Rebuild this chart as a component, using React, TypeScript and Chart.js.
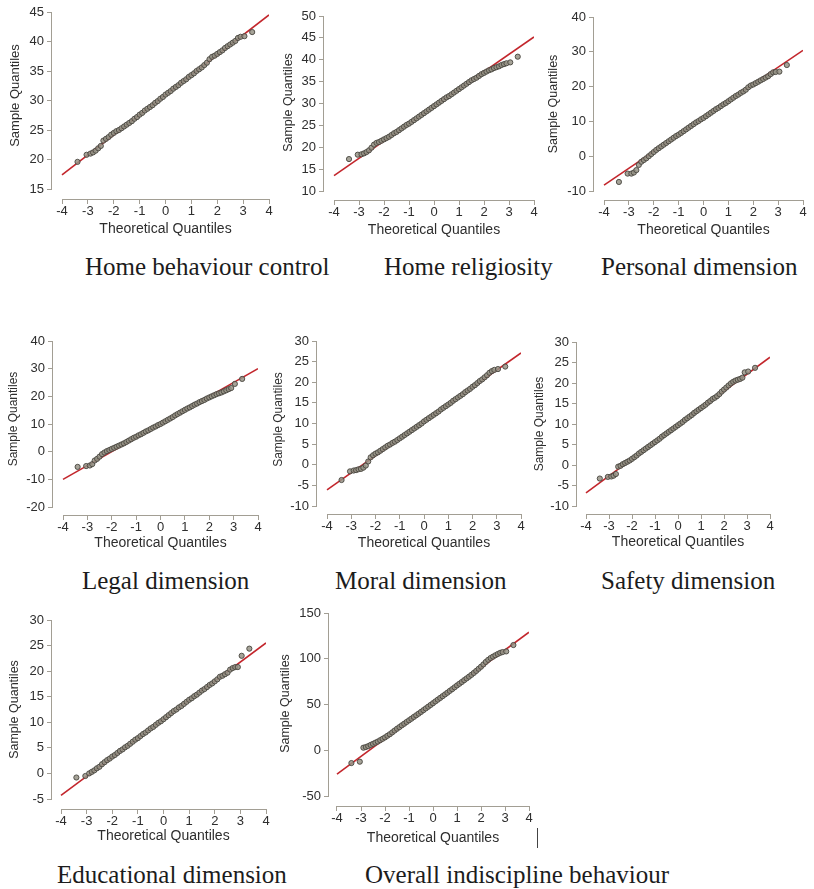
import React, { useEffect, useRef } from "react";
import { Chart, registerables } from "chart.js";

Chart.register(...registerables);

// ---------- data ----------
const theoreticalQuantiles = [
  -3.4, -3.05, -2.9, -2.8, -2.7, -2.6, -2.5, -2.4, -2.3, -2.2, -2.1,
  -2.0, -1.9, -1.8, -1.7, -1.6, -1.5, -1.4, -1.3, -1.2, -1.1,
  -1.0, -0.9, -0.8, -0.7, -0.6, -0.5, -0.4, -0.3, -0.2, -0.1,
  0, 0.1, 0.2, 0.3, 0.4, 0.5, 0.6, 0.7, 0.8, 0.9,
  1.0, 1.1, 1.2, 1.3, 1.4, 1.5, 1.6, 1.7, 1.8, 1.9,
  2.0, 2.1, 2.2, 2.3, 2.4, 2.5, 2.6, 2.7, 2.8, 2.9,
  3.05, 3.35,
];

const homeBehaviourControl = [
  19.6, 20.8, 21.0, 21.2, 21.5, 21.9, 22.3, 23.2, 23.5, 23.8, 24.2,
  24.5, 24.8, 25.0, 25.3, 25.6, 25.9, 26.2, 26.5, 26.9, 27.2,
  27.6, 27.9, 28.3, 28.6, 28.9, 29.2, 29.6, 29.9, 30.3, 30.6,
  31.0, 31.3, 31.6, 32.0, 32.3, 32.6, 33.0, 33.3, 33.6, 34.0,
  34.3, 34.6, 35.0, 35.3, 35.6, 36.0, 36.4, 37.0, 37.4, 37.6,
  37.9, 38.2, 38.5, 38.9, 39.2, 39.5, 39.8, 40.1, 40.6, 40.8,
  40.9, 41.6,
];

const homeReligiosity = [
  17.3, 18.3, 18.4, 18.6, 18.9, 19.3, 19.9, 20.6, 21.0, 21.2, 21.5,
  21.8, 22.1, 22.4, 22.8, 23.2, 23.5, 23.9, 24.3, 24.7, 25.1,
  25.4, 25.8, 26.2, 26.6, 27.0, 27.4, 27.8, 28.2, 28.6, 29.0,
  29.4, 29.8, 30.2, 30.6, 31.0, 31.4, 31.7, 32.1, 32.5, 32.9,
  33.3, 33.7, 34.1, 34.5, 34.9, 35.3, 35.6, 35.9, 36.3, 36.7,
  37.0, 37.3, 37.6, 37.8, 38.1, 38.3, 38.5, 38.8, 39.0, 39.2,
  39.4, 40.7,
];

const personalDimension = [
  -7.4, -5.0, -5.0, -4.7, -4.0, -2.5, -1.6, -1.1, -0.6, 0.0, 0.6,
  1.2, 1.8, 2.3, 2.8, 3.3, 3.8, 4.3, 4.8, 5.3, 5.8,
  6.2, 6.7, 7.2, 7.7, 8.2, 8.7, 9.2, 9.7, 10.1, 10.6,
  11.0, 11.5, 12.0, 12.5, 13.0, 13.5, 13.9, 14.4, 14.9, 15.3,
  15.8, 16.3, 16.8, 17.3, 17.7, 18.2, 18.6, 19.1, 19.8, 20.3,
  20.6, 21.0, 21.4, 21.8, 22.2, 22.6, 23.0, 23.6, 24.1, 24.2,
  24.3, 26.2,
];

const legalDimension = [
  -5.5, -5.2, -5.0, -4.5, -3.2, -2.6, -1.8, -0.9, -0.3, 0.2, 0.6,
  1.0, 1.4, 1.8, 2.2, 2.6, 3.0, 3.5, 4.0, 4.5, 5.0,
  5.4, 5.9, 6.3, 6.8, 7.3, 7.7, 8.2, 8.7, 9.1, 9.6,
  10.0, 10.5, 11.0, 11.5, 12.0, 12.5, 13.1, 13.6, 14.1, 14.6,
  15.1, 15.6, 16.0, 16.5, 17.0, 17.4, 17.9, 18.3, 18.7, 19.2,
  19.6, 20.0, 20.4, 20.8, 21.1, 21.4, 21.8, 22.2, 22.6, 23.0,
  24.5, 26.3,
];

const moralDimension = [
  -3.7, -1.6, -1.4, -1.3, -1.1, -1.0, -0.7, -0.2, 0.8, 1.8, 2.3,
  2.7, 3.0, 3.4, 3.8, 4.2, 4.6, 4.9, 5.3, 5.6, 6.0,
  6.4, 6.8, 7.2, 7.6, 8.0, 8.4, 8.8, 9.2, 9.6, 10.0,
  10.5, 10.9, 11.3, 11.7, 12.1, 12.5, 12.9, 13.4, 13.8, 14.2,
  14.6, 15.0, 15.5, 15.9, 16.3, 16.7, 17.1, 17.6, 18.0, 18.4,
  18.9, 19.3, 19.8, 20.3, 20.7, 21.2, 21.7, 22.3, 22.7, 23.0,
  23.2, 23.8,
];

const safetyDimension = [
  -3.3, -2.9, -2.8, -2.6, -2.2, -0.4, -0.2, 0.2, 0.5, 0.8, 1.1,
  1.5, 1.9, 2.3, 2.8, 3.2, 3.6, 4.0, 4.4, 4.8, 5.2,
  5.6, 6.0, 6.4, 6.9, 7.3, 7.7, 8.1, 8.5, 8.9, 9.3,
  9.7, 10.1, 10.5, 11.0, 11.4, 11.8, 12.2, 12.7, 13.1, 13.5,
  13.9, 14.3, 14.7, 15.2, 15.6, 16.1, 16.4, 16.8, 17.3, 17.9,
  18.4, 18.9, 19.4, 19.9, 20.3, 20.6, 20.8, 21.0, 21.3, 22.6,
  22.8, 23.7,
];

const educationalDimension = [
  -0.8, -0.5, 0.0, 0.3, 0.6, 1.0, 1.3, 1.8, 2.2, 2.6, 2.9,
  3.3, 3.6, 4.0, 4.4, 4.7, 5.1, 5.4, 5.8, 6.2, 6.6,
  6.9, 7.3, 7.7, 8.0, 8.4, 8.8, 9.1, 9.5, 9.9, 10.2,
  10.6, 11.0, 11.4, 11.8, 12.2, 12.5, 12.9, 13.2, 13.6, 14.0,
  14.4, 14.7, 15.1, 15.4, 15.8, 16.2, 16.5, 16.9, 17.3, 17.6,
  18.0, 18.4, 18.9, 19.1, 19.4, 19.7, 20.3, 20.6, 20.8, 20.8,
  23.0, 24.4,
];

const overallIndiscipline = [
  -14.0, -12.5, 2.8, 3.5, 4.5, 5.8, 7.0, 8.3, 9.5, 11.0, 12.5,
  14.0, 15.8, 17.5, 19.5, 21.5, 23.5, 25.3, 27.2, 29.0, 30.9,
  32.7, 34.5, 36.4, 38.2, 40.0, 41.9, 43.8, 45.7, 47.6, 49.5,
  51.4, 53.4, 55.3, 57.2, 59.1, 61.0, 62.9, 64.9, 66.8, 68.8,
  70.8, 72.7, 74.6, 76.6, 78.5, 80.4, 82.4, 84.5, 86.7, 89.0,
  91.3, 93.8, 96.5, 98.8, 100.8, 102.3, 103.8, 105.2, 106.5, 107.3,
  108.0, 115.0,
];

// reference line: sample value at theoretical -4 and +4
const referenceLineX = [-4, 4];
const homeBehaviourControlLine = [17.4, 44.5];
const homeReligiosityLine = [13.5, 45.2];
const personalDimensionLine = [-8.3, 30.4];
const legalDimensionLine = [-10, 30];
const moralDimensionLine = [-6.1, 27.1];
const safetyDimensionLine = [-6.8, 26.3];
const educationalDimensionLine = [-4.3, 25.5];
const overallIndisciplineLine = [-26, 129];

// tick labels
const theoreticalTicks = [-4, -3, -2, -1, 0, 1, 2, 3, 4];
const homeBehaviourControlTicks = [15, 20, 25, 30, 35, 40, 45];
const homeReligiosityTicks = [10, 15, 20, 25, 30, 35, 40, 45, 50];
const personalDimensionTicks = [-10, 0, 10, 20, 30, 40];
const legalDimensionTicks = [-20, -10, 0, 10, 20, 30, 40];
const moralDimensionTicks = [-10, -5, 0, 5, 10, 15, 20, 25, 30];
const safetyDimensionTicks = [-10, -5, 0, 5, 10, 15, 20, 25, 30];
const educationalDimensionTicks = [-5, 0, 5, 10, 15, 20, 25, 30];
const overallIndisciplineTicks = [-50, 0, 50, 100, 150];

const panelNames = [
  "Home behaviour control",
  "Home religiosity",
  "Personal dimension",
  "Legal dimension",
  "Moral dimension",
  "Safety dimension",
  "Educational dimension",
  "Overall indiscipline behaviour",
];

const xAxisTitle = "Theoretical Quantiles";
const yAxisTitle = "Sample Quantiles";

// ---------- layout (page pixels) ----------
const panels = [
  { values: homeBehaviourControl, line: homeBehaviourControlLine, yTicks: homeBehaviourControlTicks,
    L: { yAxisX: 52, xAxisY: 199, xFirst: 62, xLast: 269, yTopPx: 12, yBotPx: 189, yTitleDist: 37, yTitleSize: 13, yTitleShift: -5, xTitleDist: 30 },
    caption: { left: 85, baseline: 275 } },
  { values: homeReligiosity, line: homeReligiosityLine, yTicks: homeReligiosityTicks,
    L: { yAxisX: 324, xAxisY: 200, xFirst: 334, xLast: 534, yTopPx: 16, yBotPx: 191, yTitleDist: 35, yTitleSize: 12.5, yTitleShift: -1, xTitleDist: 30 },
    caption: { left: 384, baseline: 275 } },
  { values: personalDimension, line: personalDimensionLine, yTicks: personalDimensionTicks,
    L: { yAxisX: 594, xAxisY: 200, xFirst: 604, xLast: 803, yTopPx: 17, yBotPx: 191, yTitleDist: 40, yTitleSize: 12.5, yTitleShift: 0, xTitleDist: 30 },
    caption: { left: 601, baseline: 275 } },
  { values: legalDimension, line: legalDimensionLine, yTicks: legalDimensionTicks,
    L: { yAxisX: 53, xAxisY: 515, xFirst: 63, xLast: 258, yTopPx: 341, yBotPx: 507, yTitleDist: 39, yTitleSize: 12, yTitleShift: -5, xTitleDist: 28 },
    caption: { left: 82, baseline: 589 } },
  { values: moralDimension, line: moralDimensionLine, yTicks: moralDimensionTicks,
    L: { yAxisX: 317, xAxisY: 514, xFirst: 327, xLast: 521, yTopPx: 341, yBotPx: 506, yTitleDist: 38, yTitleSize: 12, yTitleShift: -4, xTitleDist: 29 },
    caption: { left: 335, baseline: 589 } },
  { values: safetyDimension, line: safetyDimensionLine, yTicks: safetyDimensionTicks,
    L: { yAxisX: 577, xAxisY: 514, xFirst: 586, xLast: 770, yTopPx: 342, yBotPx: 506, yTitleDist: 37, yTitleSize: 12, yTitleShift: 0, xTitleDist: 28 },
    caption: { left: 601, baseline: 589 } },
  { values: educationalDimension, line: educationalDimensionLine, yTicks: educationalDimensionTicks,
    L: { yAxisX: 52, xAxisY: 809, xFirst: 61, xLast: 266, yTopPx: 620, yBotPx: 799, yTitleDist: 37, yTitleSize: 12.5, yTitleShift: 0, xTitleDist: 27 },
    caption: { left: 57, baseline: 883 } },
  { values: overallIndiscipline, line: overallIndisciplineLine, yTicks: overallIndisciplineTicks,
    L: { yAxisX: 329, xAxisY: 806, xFirst: 337, xLast: 529, yTopPx: 613, yBotPx: 796, yTitleDist: 43, yTitleSize: 12.5, yTitleShift: -1, xTitleDist: 32 },
    caption: { left: 365, baseline: 883 } },
];

const Y_SCALE_W = 56;
const PAD_TOP = 12;
const PAD_RIGHT = 8;
const X_SCALE_H = 44;

const SANS = '"Liberation Sans", Arial, Helvetica, sans-serif';
const AXIS_COLOR = "#a29e94";
const TEXT_COLOR = "#2e2e2e";
const LINE_COLOR = "#c3262c";

function QQPanel({ p }: { p: (typeof panels)[number] }) {
  const ref = useRef<HTMLCanvasElement | null>(null);
  const L = p.L;
  const areaW = L.xLast - L.yAxisX;
  const areaH = L.xAxisY - L.yTopPx;
  const width = Y_SCALE_W + areaW + PAD_RIGHT;
  const height = PAD_TOP + areaH + X_SCALE_H;
  const left = L.yAxisX - Y_SCALE_W;
  const top = L.yTopPx - PAD_TOP;

  useEffect(() => {
    if (!ref.current) return;
    const xT = theoreticalTicks;
    const yT = p.yTicks;
    const xSpan = xT[xT.length - 1] - xT[0];
    const ySpan = yT[yT.length - 1] - yT[0];
    const xMin = xT[0] - ((L.xFirst - L.yAxisX) * xSpan) / (L.xLast - L.xFirst);
    const yMin = yT[0] - ((L.xAxisY - L.yBotPx) * ySpan) / (L.yBotPx - L.yTopPx);

    const rAxes = {
      id: "rAxes",
      afterDraw(chart: any) {
        const { ctx, chartArea } = chart;
        const xs = chart.scales.x;
        const ys = chart.scales.y;
        ctx.save();
        ctx.strokeStyle = AXIS_COLOR;
        ctx.lineWidth = 1;
        ctx.beginPath();
        const by = Math.round(chartArea.bottom) + 0.5;
        ctx.moveTo(xs.getPixelForValue(xT[0]), by);
        ctx.lineTo(xs.getPixelForValue(xT[xT.length - 1]), by);
        const lx = Math.round(chartArea.left) - 0.5;
        ctx.moveTo(lx, ys.getPixelForValue(yT[0]));
        ctx.lineTo(lx, ys.getPixelForValue(yT[yT.length - 1]));
        ctx.stroke();

        ctx.fillStyle = TEXT_COLOR;
        ctx.textAlign = "center";
        ctx.textBaseline = "middle";
        ctx.font = `14px ${SANS}`;
        ctx.fillText(xAxisTitle, xs.getPixelForValue(0), chartArea.bottom + L.xTitleDist);

        const cy = (ys.getPixelForValue(yT[0]) + ys.getPixelForValue(yT[yT.length - 1])) / 2 + L.yTitleShift;
        ctx.translate(chartArea.left - L.yTitleDist, cy);
        ctx.rotate(-Math.PI / 2);
        ctx.font = `${L.yTitleSize}px ${SANS}`;
        ctx.fillText(yAxisTitle, 0, 0);
        ctx.restore();
      },
    };

    const tickFont = { family: SANS, size: 13 };
    const chart = new Chart(ref.current, {
      type: "scatter",
      data: {
        datasets: [
          {
            data: theoreticalQuantiles.map((x, i) => ({ x, y: p.values[i] })),
            pointRadius: 2.6,
            pointBorderWidth: 0.9,
            backgroundColor: "rgba(150,147,134,0.85)",
            borderColor: "#47453e",
            order: 0,
          },
          {
            data: referenceLineX.map((x, i) => ({ x, y: p.line[i] })),
            showLine: true,
            pointRadius: 0,
            borderColor: LINE_COLOR,
            borderWidth: 1.6,
            order: 1,
          },
        ],
      },
      options: {
        animation: false,
        responsive: false,
        devicePixelRatio: 1,
        layout: { padding: { left: 0, top: PAD_TOP, right: PAD_RIGHT, bottom: 0 } },
        plugins: { legend: { display: false }, tooltip: { enabled: false } },
        scales: {
          x: {
            type: "linear",
            min: xMin,
            max: xT[xT.length - 1],
            bounds: "data",
            afterFit: (s: any) => {
              s.height = X_SCALE_H;
            },
            afterBuildTicks: (s: any) => {
              s.ticks = xT.map((v) => ({ value: v }));
            },
            ticks: {
              autoSkip: false,
              maxRotation: 0,
              padding: 0,
              font: tickFont,
              color: TEXT_COLOR,
              callback: (_v: any, i: number) => String(xT[i]),
            },
            grid: { display: true, drawOnChartArea: false, drawTicks: true, tickLength: 5, color: AXIS_COLOR, lineWidth: 1 },
            border: { display: false },
          },
          y: {
            type: "linear",
            min: yMin,
            max: yT[yT.length - 1],
            bounds: "data",
            afterFit: (s: any) => {
              s.width = Y_SCALE_W;
            },
            afterBuildTicks: (s: any) => {
              s.ticks = yT.map((v) => ({ value: v }));
            },
            ticks: {
              autoSkip: false,
              padding: 3,
              font: tickFont,
              color: TEXT_COLOR,
              callback: (_v: any, i: number) => String(yT[i]),
            },
            grid: { display: true, drawOnChartArea: false, drawTicks: true, tickLength: 5, color: AXIS_COLOR, lineWidth: 1 },
            border: { display: false },
          },
        },
      },
      plugins: [rAxes],
    } as any);
    return () => chart.destroy();
  }, []);

  return (
    <canvas
      ref={ref}
      width={width}
      height={height}
      style={{ position: "absolute", left, top, width, height }}
    />
  );
}

export default function App() {
  return (
    <div
      style={{
        position: "absolute",
        left: 0,
        top: 0,
        width: 814,
        height: 889,
        overflow: "hidden",
        background: "#ffffff",
      }}
    >
      {panels.map((p, i) => (
        <QQPanel key={i} p={p} />
      ))}
      {panels.map((p, i) => (
        <div
          key={"c" + i}
          style={{
            position: "absolute",
            left: p.caption.left,
            top: p.caption.baseline - 21,
            fontFamily: '"Liberation Serif", "Times New Roman", serif',
            fontSize: 25,
            lineHeight: "25px",
            color: "#1c1c1c",
            whiteSpace: "nowrap",
          }}
        >
          {panelNames[i]}
        </div>
      ))}
      <div
        style={{
          position: "absolute",
          left: 537,
          top: 828,
          width: 1,
          height: 20,
          background: "#444",
        }}
      />
    </div>
  );
}
